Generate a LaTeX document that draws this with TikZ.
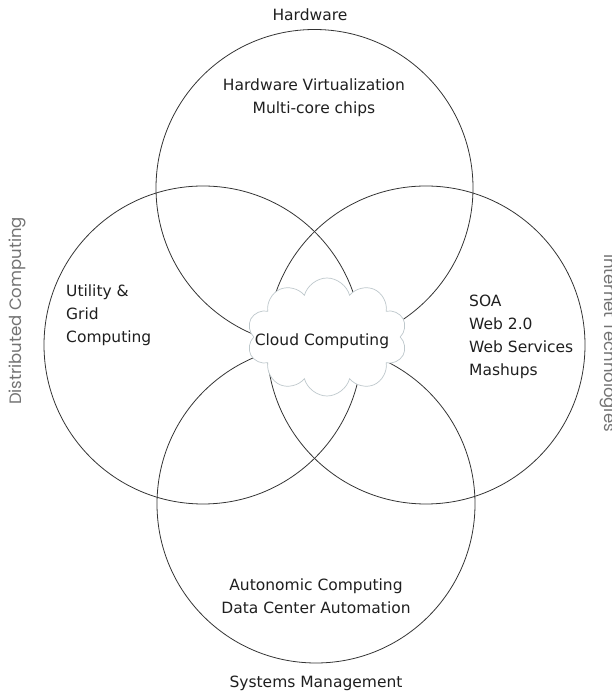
\documentclass[tikz,border=0pt]{standalone}
\usepackage{fontspec}
\setmainfont{DejaVu Sans}
\newfontfamily\sidefont{Poppins}
\usetikzlibrary{shapes.symbols}
\begin{document}
\begin{tikzpicture}[x=1pt,y=1pt,
  circ/.style={draw=black!80, line width=0.8pt},
  lbl/.style={font=\fontsize{15.5}{23}\selectfont, text=black!88, inner sep=0pt},
  side/.style={font=\sidefont\fontsize{16.5}{20}\selectfont, text=black!55, inner sep=0pt}]
\useasboundingbox (0,0) rectangle (612,696);
\draw[circ] (314.5,508) circle (158.5);
\draw[circ] (203,351) circle (159);
\draw[circ] (426,351) circle (159);
\draw[circ] (316,192) circle (159);
\node[cloud, cloud puffs=10, aspect=1.35, draw=cyan!25!black!30, fill=white, line width=0.7pt,
  minimum width=160pt, minimum height=118pt, inner sep=0pt] (cloud) at (327,359) {};
\node[lbl] (cc) at (322,355) {Cloud Computing};
\node[lbl] (hw) at (310,681) {Hardware};
\node[lbl, align=center] (hwv) at (314,598) {Hardware Virtualization\\Multi-core chips};
\node[lbl, align=left, anchor=west] (ug) at (66,381) {Utility \&\\Grid\\Computing};
\node[lbl, align=left, anchor=west] (soa) at (469,359) {SOA\\Web 2.0\\Web Services\\Mashups};
\node[lbl, align=center] (ac) at (316,100) {Autonomic Computing\\Data Center Automation};
\node[lbl] (sm) at (316,13) {Systems Management};
\node[side, rotate=90] (dc) at (17,385) {Distributed Computing};
\node[side, rotate=-90] (it) at (609,353) {Internet Technologies};
\end{tikzpicture}
\end{document}
